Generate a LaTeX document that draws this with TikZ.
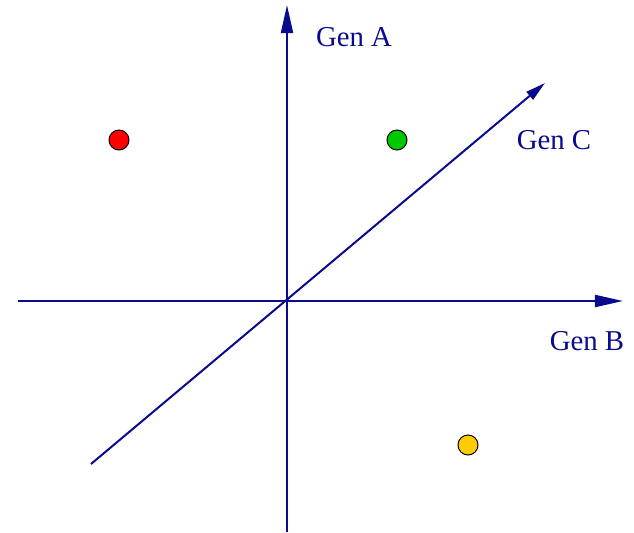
\documentclass[tikz,border=0pt]{standalone}
\usepackage{fontspec}
\setmainfont{Liberation Serif}
\usepackage{xcolor}
\usepackage{tikz}
\usetikzlibrary{arrows.meta,positioning,calc}

\definecolor{axisblue}{RGB}{10,10,140}
\definecolor{dotred}{RGB}{255,0,0}
\definecolor{dotgreen}{RGB}{0,200,0}
\definecolor{dotyellow}{RGB}{255,204,0}

\tikzset{
  axis/.style={draw=axisblue,line width=1pt},
  genlabel/.style={text=axisblue,font=\fontsize{14.4}{17}\selectfont,inner sep=0pt},
  dot/.style={circle,draw=black,line width=0.5pt,minimum size=10pt,inner sep=0pt}
}

\begin{document}
\begin{tikzpicture}[x=0.5pt,y=-0.5pt]
  \useasboundingbox (0,0) rectangle (634,532);
  % axes
  \coordinate (o) at (287,301);
  \coordinate (atop) at (287,5);
  \coordinate (abot) at (287,532);
  \coordinate (bleft) at (18,301);
  \coordinate (bright) at (623,301);
  \coordinate (cfrom) at (91,464);
  \coordinate (cto) at (545,83);
  \draw[axis,-{Triangle[length=14pt,width=6pt]}] (abot) -- (atop);
  \draw[axis,-{Triangle[length=14pt,width=6pt]}] (bleft) -- (bright);
  \draw[axis,-{Triangle[length=10pt,width=5pt]}] (cfrom) -- (cto);
  \node[genlabel] (genA) at (354,37) {Gen A};
  \node[genlabel] (genB) at (587,341) {Gen B};
  \node[genlabel] (genC) at (554,140) {Gen C};
  % points
  \node[dot,fill=dotred] (pred) at (119,140) {};
  \node[dot,fill=dotgreen] (pgreen) at (397,140) {};
  \node[dot,fill=dotyellow] (pyellow) at (468,445) {};
\end{tikzpicture}
\end{document}
